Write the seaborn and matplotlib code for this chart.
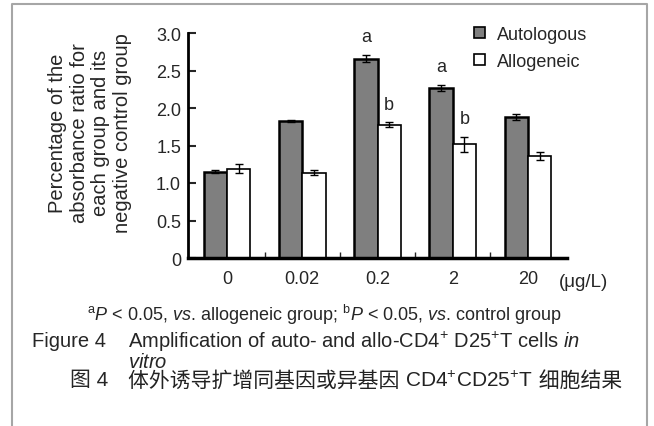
import numpy as np
import pandas as pd
import matplotlib
matplotlib.use('Agg')
import matplotlib.pyplot as plt
import seaborn as sns
from matplotlib.patches import Patch
from matplotlib.lines import Line2D
from matplotlib.offsetbox import TextArea, HPacker, AnnotationBbox

sns.set_theme(style='white')
plt.rcParams['font.family'] = ['Liberation Sans', 'Noto Sans CJK SC']
plt.rcParams['mathtext.fontset'] = 'custom'
plt.rcParams['mathtext.rm'] = 'Liberation Sans'
plt.rcParams['mathtext.it'] = 'Liberation Sans:italic'
plt.rcParams['mathtext.bf'] = 'Liberation Sans:bold'

# data
doses = ['0', '0.02', '0.2', '2', '20']
auto_mean = [1.15, 1.83, 2.66, 2.27, 1.88]
auto_err = [0.02, 0.01, 0.05, 0.04, 0.04]
allo_mean = [1.19, 1.14, 1.78, 1.52, 1.36]
allo_err = [0.06, 0.03, 0.03, 0.10, 0.05]
auto_marks = ['', '', 'a', 'a', '']
allo_marks = ['', '', 'b', 'b', '']

groups = ['Autologous', 'Allogeneic']
df = pd.DataFrame({
    'dose': doses * 2,
    'value': auto_mean + allo_mean,
    'group': [groups[0]] * len(doses) + [groups[1]] * len(doses),
})
colors = {'Autologous': '#7f7f7f', 'Allogeneic': 'white'}

W, H = 654, 427
fig = plt.figure(figsize=(W / 100, H / 100), dpi=100)
ax = fig.add_axes([188 / W, 1 - 259 / H, (567 - 188) / W, (259 - 34) / H])

sns.barplot(data=df, x='dose', y='value', hue='group', order=doses,
            hue_order=groups, palette=colors, width=0.62, edgecolor='black',
            linewidth=1.2, legend=False, ax=ax)

# error bars and significance letters on top of each bar
for cont, means, errs, marks in zip(ax.containers, [auto_mean, allo_mean],
                                    [auto_err, allo_err], [auto_marks, allo_marks]):
    for bar, m, e, s in zip(cont.patches, means, errs, marks):
        cx = bar.get_x() + bar.get_width() / 2
        ax.errorbar(cx, m, yerr=e, color='black', lw=1, capsize=3, capthick=1)
        if s:
            ax.text(cx, m + e + 0.24, s, ha='center', va='center', fontsize=13)
for bar in ax.containers[0].patches:
    bar.set_linewidth(1.8)

ax.set_ylim(0, 3.0)
ax.set_xlim(-0.52, 4.52)
ax.set_yticks([0, 0.5, 1.0, 1.5, 2.0, 2.5, 3.0])
ax.set_yticklabels(['0', '0.5', '1.0', '1.5', '2.0', '2.5', '3.0'])
ax.set_xticks([0.5, 1.5, 2.5, 3.5], minor=True)
ax.tick_params(axis='y', direction='in', length=6, width=1.5, labelsize=13, pad=5, left=True)
ax.tick_params(axis='x', which='major', length=0, labelsize=13, pad=9)
ax.tick_params(axis='x', which='minor', direction='in', length=4, width=1, bottom=True)
ax.set_xlabel('')
ax.set_ylabel('')
for sp in ['top', 'right']:
    ax.spines[sp].set_visible(False)
ax.spines['left'].set_linewidth(2)
ax.spines['bottom'].set_linewidth(2.5)
for sp in ['left', 'bottom']:
    ax.spines[sp].set_color('black')

fig.text(90 / W, 1 - 133 / H,
         'Percentage of the\nabsorbance ratio for\neach group and its\nnegative control group',
         rotation=90, ha='center', va='center', ma='center', fontsize=14.5, linespacing=1.18)
fig.text(584 / W, 1 - 283 / H, '(μg/L)', ha='center', va='center', fontsize=13.5)

handles = [Patch(facecolor=colors[g], edgecolor='black', linewidth=1.2) for g in groups]
fig.legend(handles, groups, loc='upper left', bbox_to_anchor=(474 / W, 1 - 27 / H),
           frameon=False, fontsize=13, handlelength=0.6, handleheight=0.6,
           handletextpad=0.65, labelspacing=0.55, borderpad=0, borderaxespad=0)

# footnote and caption
fig.text(324 / W, 1 - 315 / H,
         r'${}^{\rm a}P$ < 0.05, $vs$. allogeneic group; ${}^{\rm b}P$ < 0.05, $vs$. control group',
         ha='center', va='center', fontsize=13)
fig.text(32 / W, 1 - 342 / H, 'Figure 4', ha='left', va='center', fontsize=14.5)
fig.text(128 / W, 1 - 342 / H,
         r'Amplification of auto- and allo-CD4$^{+}$ D25$^{+}$T cells $in$',
         ha='left', va='center', fontsize=14.5)
fig.text(128 / W, 1 - 362 / H, r'$vitro$', ha='left', va='center', fontsize=14.5)
fig.text(70 / W, 1 - 381 / H, '图 4', ha='left', va='center', fontsize=15)

cjk = ['Liberation Sans', 'Noto Sans CJK SC']
parts = [
    TextArea('体外诱导扩增同基因或异基因 ', textprops=dict(fontsize=15, family=cjk, color='#222222')),
    TextArea(r'CD4$^{+}$CD25$^{+}$T', textprops=dict(fontsize=15, color='#222222')),
    TextArea(' 细胞结果', textprops=dict(fontsize=15, family=cjk, color='#222222')),
]
row = HPacker(children=parts, align='baseline', pad=0, sep=0)
fig.add_artist(AnnotationBbox(row, (128 / W, 1 - 381 / H), xycoords='figure fraction',
                              box_alignment=(0, 0.5), frameon=False, pad=0))

# grey frame around the figure (open at the bottom)
bc = '#a6a6a6'
fig.add_artist(Line2D([12 / W, 12 / W, 647 / W, 647 / W], [0, 1 - 5 / H, 1 - 5 / H, 0],
                      transform=fig.transFigure, color=bc, lw=1.5))

fig.savefig('out.png', dpi=100)
